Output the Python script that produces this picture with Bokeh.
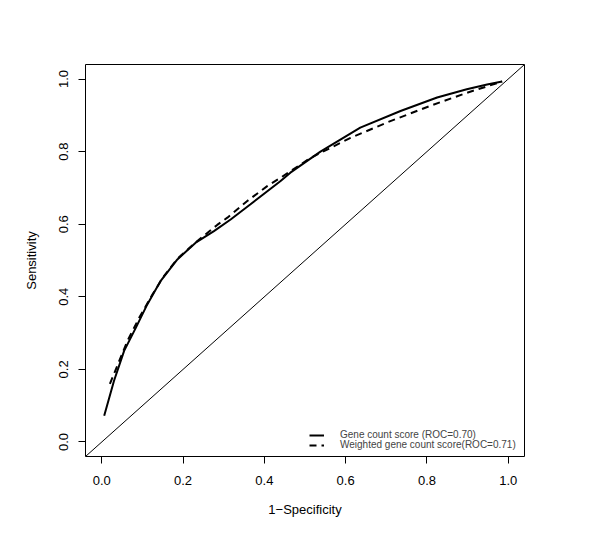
from bokeh.plotting import figure
from bokeh.models import Range1d, FixedTicker, Slope, Legend, LegendItem
from bokeh.embed import file_html
from bokeh.resources import INLINE

# Gene count score ROC curve
gene_fpr = [0.006, 0.030, 0.055, 0.084, 0.112, 0.145, 0.186, 0.231, 0.276, 0.317,
            0.366, 0.440, 0.464, 0.538, 0.636, 0.735, 0.825, 0.898, 0.948, 0.985]
gene_tpr = [0.072, 0.168, 0.251, 0.315, 0.379, 0.444, 0.503, 0.549, 0.581, 0.613,
            0.655, 0.719, 0.742, 0.800, 0.866, 0.912, 0.949, 0.972, 0.985, 0.993]

# Weighted gene count score ROC curve
wgene_fpr = [0.020, 0.040, 0.063, 0.092, 0.125, 0.153, 0.186, 0.231, 0.284, 0.309,
             0.358, 0.407, 0.440, 0.514, 0.612, 0.710, 0.808, 0.898, 0.985]
wgene_tpr = [0.160, 0.215, 0.278, 0.342, 0.407, 0.457, 0.505, 0.550, 0.598, 0.618,
             0.664, 0.705, 0.728, 0.783, 0.838, 0.884, 0.926, 0.962, 0.993]

ticks = [0.0, 0.2, 0.4, 0.6, 0.8, 1.0]
tick_labels = {0.0: "0.0", 0.2: "0.2", 0.4: "0.4", 0.6: "0.6", 0.8: "0.8", 1.0: "1.0"}
legend_labels = ["Gene count score (ROC=0.70)", "Weighted gene count score(ROC=0.71)"]

FONT = "Liberation Sans"

p = figure(width=600, height=540, output_backend="svg", toolbar_location=None,
           x_range=Range1d(-0.04, 1.04), y_range=Range1d(-0.04, 1.04),
           min_border_left=85, min_border_right=76, min_border_top=64, min_border_bottom=84)
p.xgrid.visible = False
p.ygrid.visible = False
p.outline_line_color = "black"
p.outline_line_width = 1
p.background_fill_color = "white"
p.border_fill_color = "white"

for ax in (p.xaxis[0], p.yaxis[0]):
    ax.ticker = FixedTicker(ticks=ticks)
    ax.major_label_overrides = tick_labels
    ax.axis_line_color = None
    ax.major_tick_in = 0
    ax.major_tick_out = 7
    ax.major_tick_line_color = "black"
    ax.minor_tick_line_color = None
    ax.major_label_text_font = FONT
    ax.major_label_text_font_size = "13px"
    ax.major_label_text_color = "black"
    ax.axis_label_text_font = FONT
    ax.axis_label_text_font_size = "13px"
    ax.axis_label_text_font_style = "normal"
    ax.axis_label_text_color = "black"

p.xaxis.axis_label = "1\u2212Specificity"
p.yaxis.axis_label = "Sensitivity"
p.yaxis.major_label_orientation = "vertical"
p.xaxis.major_label_standoff = 12
p.yaxis.major_label_standoff = 10
p.xaxis.axis_label_standoff = 14
p.yaxis.axis_label_standoff = 18

p.add_layout(Slope(gradient=1, y_intercept=0, line_color="black", line_width=1))

r1 = p.line(gene_fpr, gene_tpr, line_color="black", line_width=2)
r2 = p.line(wgene_fpr, wgene_tpr, line_color="black", line_width=2, line_dash="7 5")

common = dict(orientation="vertical", border_line_color=None, background_fill_alpha=0,
              label_text_font=FONT, label_text_font_size="10px",
              glyph_width=15, glyph_height=8, label_height=8,
              label_standoff=16, spacing=0, padding=0, margin=0)
leg1 = Legend(items=[LegendItem(label=legend_labels[0], renderers=[r1])],
              location=(224, 16), **common)
leg2 = Legend(items=[LegendItem(label=legend_labels[1], renderers=[r2])],
              location=(224, 6), **common)
p.add_layout(leg1)
p.add_layout(leg2)

open("out.html", "w").write(file_html(p, INLINE))
